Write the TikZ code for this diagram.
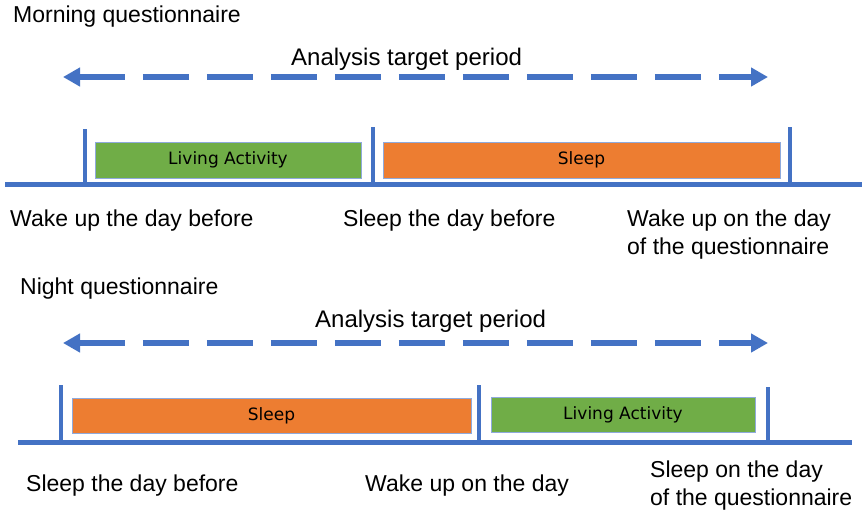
\documentclass[tikz,border=0pt]{standalone}
\usepackage{fontspec}
\setmainfont{Liberation Sans}
\newfontfamily\boxfont{DejaVu Sans}
\usetikzlibrary{arrows.meta}
\definecolor{lineblue}{HTML}{4472C4}
\definecolor{actgreen}{HTML}{70AD47}
\definecolor{sleeporange}{HTML}{ED7D31}
\definecolor{edgeblue}{HTML}{8FAADC}

\begin{document}
\begin{tikzpicture}[x=1pt, y=-1pt,
    lbl/.style={font=\fontsize{23}{28}\selectfont, align=left, inner sep=0pt, anchor=base west},
    period/.style={draw=edgeblue, line width=1pt, inner sep=0pt, font=\boxfont\fontsize{17}{19}\selectfont},
    tick/.style={lineblue, line width=4.5pt},
    axis/.style={lineblue, line width=5pt},
    span/.style={lineblue, line width=6pt, dash pattern=on 46pt off 18pt,
        {Triangle[length=17pt,width=18pt]}-{Triangle[length=17pt,width=18pt]}}]
		\useasboundingbox (0,0) rectangle (864,512);
		\fill[white] (0,0) rectangle (864,512);
		% morning
		\node[lbl] (mtitle) at (13,22) {Morning questionnaire};
		\node[lbl, font=\fontsize{24}{28}\selectfont] (mlabel) at (291,65) {Analysis target period};
		\coordinate (mleft) at (63,77);
		\coordinate (mright) at (768,77);
		\draw[span] (mleft) -- (mright);
		\draw[axis] (5,184) -- (862,184);
		\draw[tick] (85,129) -- (85,184);
		\draw[tick] (373,127) -- (373,184);
		\draw[tick] (790,127) -- (790,184);
		\node[period, fill=actgreen, minimum width=266pt, minimum height=36pt] (mliv) at (228,160) {Living Activity};
		\node[period, fill=sleeporange, minimum width=397pt, minimum height=36pt] (msleep) at (581.5,160) {Sleep};
		\node[lbl] (mwake) at (10,226) {Wake up the day before};
		\node[lbl] (msleepday) at (343,226) {Sleep the day before};
		\node[lbl] (mwakeq) at (627,254) {Wake up on the day\\of the questionnaire};
		% night
		\node[lbl] (ntitle) at (20,294) {Night questionnaire};
		\node[lbl, font=\fontsize{24}{28}\selectfont] (nlabel) at (315,327) {Analysis target period};
		\coordinate (nleft) at (63,343);
		\coordinate (nright) at (768,343);
		\draw[span] (nleft) -- (nright);
		\draw[axis] (18,442) -- (852,442);
		\draw[tick] (61,385) -- (61,442);
		\draw[tick] (479,385) -- (479,442);
		\draw[tick] (768,387) -- (768,442);
		\node[period, fill=sleeporange, minimum width=399pt, minimum height=35pt] (nsleep) at (271.5,415.5) {Sleep};
		\node[period, fill=actgreen, minimum width=264pt, minimum height=35pt] (nliv) at (623,414.5) {Living Activity};
		\node[lbl] (nsleepday) at (26,491) {Sleep the day before};
		\node[lbl] (nwake) at (365,491) {Wake up on the day};
		\node[lbl] (nsleepq) at (650,505) {Sleep on the day\\of the questionnaire};
		\end{tikzpicture}
\end{document}
